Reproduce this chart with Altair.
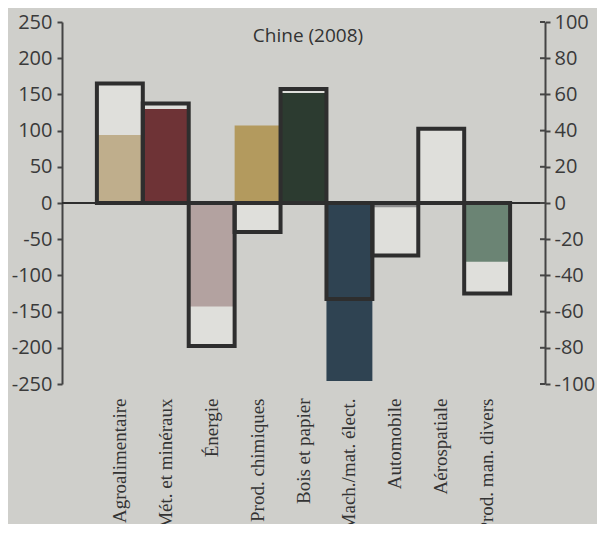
import altair as alt
import pandas as pd

categories = ["Agroalimentaire", "Mét. et minéraux", "Énergie", "Prod. chimiques",
              "Bois et papier", "Mach./mat. élect.", "Automobile", "Aérospatiale",
              "Prod. man. divers"]
# filled bars, left axis
balance = [94, 130, -143, 107, 152, -246, -6, 0, -81]
# outlined bars, right axis
index_vals = [66, 55, -79, -16, 63, -53, -29, 41, -50]
fill_colors = ["#bfae8c", "#6e3336", "#b3a2a0", "#b39a5e", "#2c3b30",
               "#2f4352", "#8c8c8c", "#8c8c8c", "#6b8474"]
left_ticks = list(range(-250, 251, 50))
right_ticks = list(range(-100, 101, 20))
title_text = ["Chine (2008)"]

W, H = 483, 362
BG = "#cfcfcb"
INNER = "#dfdfdb"
DARK = "#2e2e2e"
NUMFONT = "Open Sans"

df = pd.DataFrame({"cat": categories, "balance": balance, "idx": index_vals})

xenc = alt.X("cat:N", sort=categories, title=None,
             scale=alt.Scale(paddingInner=0, paddingOuter=0.76),
             axis=alt.Axis(labelAngle=-90, labelFont="Liberation Serif", labelFontSize=19,
                           labelColor="#333", domain=False, ticks=False, labelPadding=14,
                           labelAlign="right", labelBaseline="middle", labelOverlap=False,
                           labelLimit=300))

RDOM = alt.Scale(domain=[-100, 100], nice=False)
LDOM = alt.Scale(domain=[-250, 250], nice=False)

base = alt.Chart(df).encode(x=xenc)

white = base.mark_bar(fill=INNER).encode(
    y=alt.Y("idx:Q", scale=RDOM, axis=None),
    y2=alt.datum(0))

zero = alt.Chart(pd.DataFrame({"z": [0]})).mark_rule(color=DARK, strokeWidth=2).encode(
    y=alt.Y("z:Q", scale=RDOM, axis=None))

filled = base.mark_bar().encode(
    y=alt.Y("balance:Q", scale=LDOM, title=None,
            axis=alt.Axis(orient="left", values=left_ticks, labelFont=NUMFONT, labelFontSize=20,
                          labelColor="#3a3a3a", domainColor="#444", domainWidth=2,
                          tickColor="#444", tickWidth=2, tickSize=5, labelPadding=5,
                          grid=False, labelExpr="'' + datum.value")),
    y2=alt.datum(0),
    color=alt.Color("cat:N", scale=alt.Scale(domain=categories, range=fill_colors), legend=None))

outline = base.mark_bar(filled=False, stroke=DARK, strokeWidth=4).encode(
    y=alt.Y("idx:Q", scale=RDOM, title=None,
            axis=alt.Axis(orient="right", values=right_ticks, labelFont=NUMFONT, labelFontSize=20,
                          labelColor="#3a3a3a", domainColor="#444", domainWidth=2,
                          tickColor="#444", tickWidth=2, tickSize=5, labelPadding=4,
                          grid=False, labelExpr="'' + datum.value")),
    y2=alt.datum(0))

inner_ticks = alt.Chart(pd.DataFrame({"t": right_ticks})).mark_rule(
    color="#444", strokeWidth=2).encode(
    y=alt.Y("t:Q", scale=RDOM, axis=None),
    x=alt.value(W - 5), x2=alt.value(W))

title = alt.Chart(pd.DataFrame({"t": title_text})).mark_text(
    font=NUMFONT, fontSize=19, color="#333", align="center", baseline="alphabetic"
).encode(text="t:N", x=alt.value(246), y=alt.value(20))

chart = alt.layer(white, zero, filled, outline, inner_ticks, title).resolve_scale(
    y="independent"
).properties(
    width=W, height=H,
    autosize=alt.AutoSizeParams(type="none"),
    padding={"left": 54, "top": 14, "right": 52, "bottom": 140},
).configure(background=BG).configure_view(stroke=None)

chart.save("out.html", embed_options={"renderer": "svg", "actions": False})
